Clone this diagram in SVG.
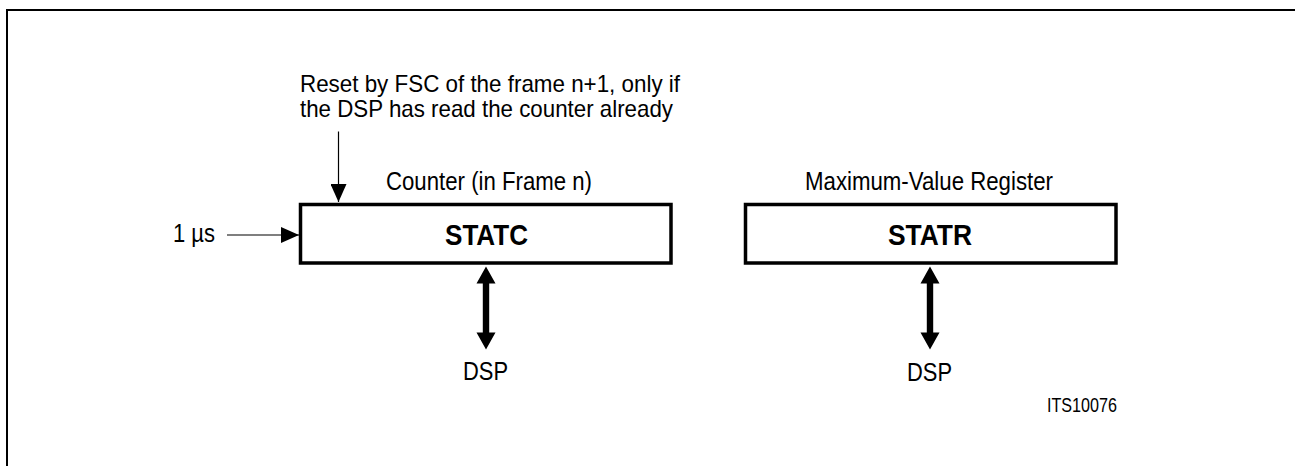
<svg xmlns="http://www.w3.org/2000/svg" width="1295" height="466" viewBox="0 0 1295 466">
  <style>
    .t { font-family: "Liberation Sans", Arial, sans-serif; font-size: 26px; fill: #000; }
    .n { font-family: "Liberation Sans", Arial, sans-serif; font-size: 24px; fill: #000; }
    .b { font-family: "Liberation Sans", Arial, sans-serif; font-size: 29.5px; font-weight: bold; fill: #000; }
    .s { font-family: "Liberation Sans", Arial, sans-serif; font-size: 21px; fill: #000; }
    .box { fill: #fff; stroke: #000; stroke-width: 3.5; }
    .thin { stroke: #000; stroke-width: 1.2; fill: none; }
  </style>
  <defs>
    <marker id="ah" markerUnits="userSpaceOnUse" markerWidth="18" markerHeight="16" refX="18" refY="8" orient="auto">
      <path d="M0,0 L18,8 L0,16 z" fill="#000"/>
    </marker>
    <polygon id="dbl" points="0,0 9.5,17 3.2,17 3.2,66 9.5,66 0,83 -9.5,66 -3.2,66 -3.2,17 -9.5,17" fill="#000"/>
  </defs>
  <rect width="1295" height="466" fill="#fff"/>
  <path d="M7,466 V10 H1295" fill="none" stroke="#000" stroke-width="2"/>

  <g id="labels">
    <text class="n" x="300" y="91.5" textLength="380" lengthAdjust="spacingAndGlyphs">Reset by FSC of the frame n+1, only if</text>
    <text class="n" x="300" y="117" textLength="373" lengthAdjust="spacingAndGlyphs">the DSP has read the counter already</text>
    <text class="t" x="173" y="241.5" textLength="42" lengthAdjust="spacingAndGlyphs">1 µs</text>
    <text class="s" x="1047" y="411.5" textLength="70" lengthAdjust="spacingAndGlyphs">ITS10076</text>
  </g>

  <g id="statc">
    <text class="t" x="386" y="189.5" textLength="206" lengthAdjust="spacingAndGlyphs">Counter (in Frame n)</text>
    <rect class="box" x="300.5" y="204.5" width="370.5" height="58.5"/>
    <text class="b" x="445" y="245" textLength="83" lengthAdjust="spacingAndGlyphs">STATC</text>
  </g>

  <g id="statr">
    <text class="t" x="805" y="190" textLength="248" lengthAdjust="spacingAndGlyphs">Maximum-Value Register</text>
    <rect class="box" x="745.5" y="204.5" width="370.5" height="58.5"/>
    <text class="b" x="888" y="245" textLength="84" lengthAdjust="spacingAndGlyphs">STATR</text>
  </g>

  <g id="dsp1">
    <text class="t" x="463" y="380" textLength="45" lengthAdjust="spacingAndGlyphs">DSP</text>
  </g>
  <g id="dsp2">
    <text class="t" x="907" y="381" textLength="45" lengthAdjust="spacingAndGlyphs">DSP</text>
  </g>

  <g id="connectors">
    <line class="thin" x1="338.5" y1="131.5" x2="338.5" y2="202" marker-end="url(#ah)"/>
    <line class="thin" x1="227" y1="235" x2="299" y2="235" marker-end="url(#ah)"/>
    <use href="#dbl" transform="translate(486,266.5)"/>
    <use href="#dbl" transform="translate(930,266.5)"/>
  </g>
</svg>
